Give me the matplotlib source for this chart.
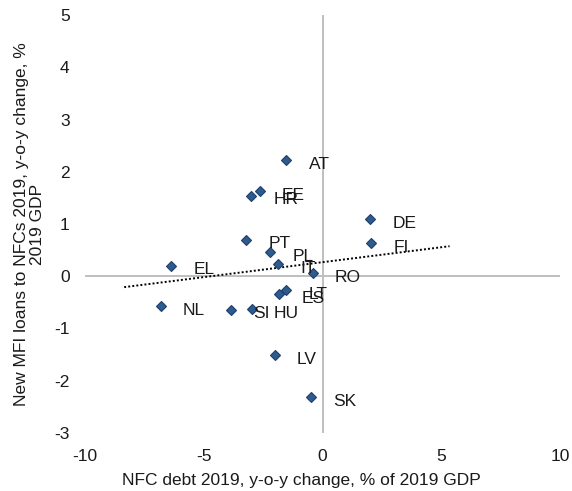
import numpy as np
import matplotlib
matplotlib.use("Agg")
import matplotlib.pyplot as plt

# Country values
countries = ["AT", "EE", "HR", "DE", "FI", "PT", "PL", "IT", "RO",
             "LT", "ES", "SI", "HU", "EL", "NL", "LV", "SK"]
nfc_debt = [-1.52, -2.64, -3.00, 2.01, 2.06, -3.21, -2.19, -1.88, -0.41,
            -1.52, -1.82, -3.87, -2.98, -6.37, -6.81, -2.02, -0.48]
mfi_loans = [2.22, 1.63, 1.54, 1.09, 0.63, 0.70, 0.46, 0.23, 0.06,
             -0.27, -0.34, -0.64, -0.63, 0.20, -0.57, -1.51, -2.32]

# Extent of the linear trendline (forecast past the data, as drawn)
trend_range = [-8.35, 5.35]

xticks = [-10, -5, 0, 5, 10]
yticks = [-3, -2, -1, 0, 1, 2, 3, 4, 5]

plt.rcParams['font.family'] = ['Liberation Sans', 'DejaVu Sans']
plt.rcParams['axes.unicode_minus'] = False
fs = 12.5

fig = plt.figure(figsize=(5.72, 4.91), dpi=100)
ax = fig.add_axes([85 / 572, 58 / 491, 475 / 572, 418 / 491])

ax.set_xlim(-10, 10)
ax.set_ylim(-3, 5)
for s in ax.spines.values():
    s.set_visible(False)

# zero axes in grey
ax.axhline(0, color='#BFBFBF', lw=1.4, zorder=1)
ax.axvline(0, color='#BFBFBF', lw=1.4, zorder=1)

# trendline
slope, intercept = np.polyfit(nfc_debt, mfi_loans, 1)
tx = np.array(trend_range)
ax.plot(tx, slope * tx + intercept, color='black', lw=1.4,
        linestyle=(0, (1, 1.1)), zorder=2)

ax.plot(nfc_debt, mfi_loans, linestyle='none', marker='D', markersize=5.6,
        markerfacecolor='#2E5B8E', markeredgecolor='#1F3F6E',
        markeredgewidth=0.8, zorder=3)

for name, x, y in zip(countries, nfc_debt, mfi_loans):
    ax.annotate(name, (x, y), xytext=(16, -3), textcoords='offset points',
                ha='left', va='center', fontsize=fs, color='#1a1a1a')

ax.set_xticks(xticks)
ax.set_yticks(yticks)
ax.tick_params(length=0, labelsize=fs, colors='#1a1a1a')
ax.tick_params(axis='y', pad=11)
ax.tick_params(axis='x', pad=11.5)

fig.text(301.5 / 572, 11 / 491, "NFC debt 2019, y-o-y change, % of 2019 GDP",
         ha='center', va='center', fontsize=fs, color='#1a1a1a')
fig.text(29.5 / 572, 1 - 224 / 491,
         "New MFI loans to NFCs 2019, y-o-y change, %\n2019 GDP",
         ha='center', va='center', rotation=90, multialignment='center',
         linespacing=1.05, fontsize=fs, color='#1a1a1a')

fig.savefig("out.png", dpi=100)
